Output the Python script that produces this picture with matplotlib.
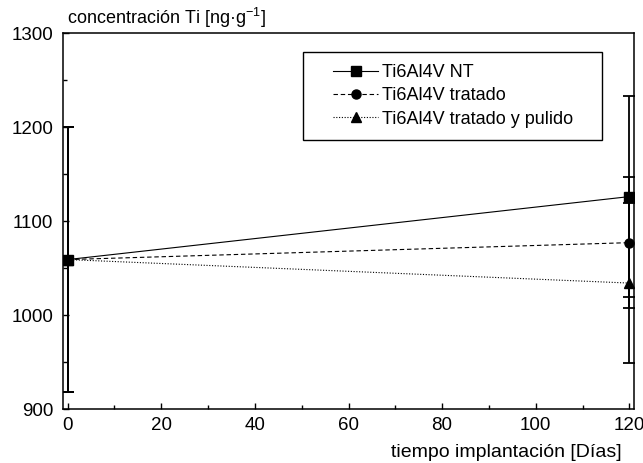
import matplotlib.pyplot as plt
from matplotlib.ticker import MultipleLocator
from matplotlib.patches import Rectangle

plt.rcParams['font.family'] = ['Liberation Sans', 'DejaVu Sans']

# datos
dias = [0, 120]
nt = [1059, 1126]
nt_err = [141, 107]
tratado = [1059, 1077]
tratado_err = [141, 70]
pulido = [1059, 1034]
pulido_err = [141, 85]
etiquetas = ['Ti6Al4V NT', 'Ti6Al4V tratado', 'Ti6Al4V tratado y pulido']

fig = plt.figure(figsize=(6.43, 4.63), dpi=100)
ax = fig.add_axes([0.098, 0.1166, 0.888, 0.812])

series = [(nt, nt_err, '-', 's'), (tratado, tratado_err, (0, (4, 2.5)), 'o'),
          (pulido, pulido_err, (0, (1, 1.5)), '^')]
handles = []
for (y, e, ls, mk), lab in zip(series, etiquetas):
    ax.errorbar(dias, y, yerr=e, fmt='none', ecolor='black', elinewidth=1.3,
                capsize=4.5, capthick=1.3)
    h, = ax.plot(dias, y, color='black', linestyle=ls, linewidth=0.8,
                 marker=mk, markersize=6.5, label=lab)
    handles.append(h)

ax.set_xlim(-1, 121)
ax.set_ylim(900, 1300)
ax.xaxis.set_major_locator(MultipleLocator(20))
ax.xaxis.set_minor_locator(MultipleLocator(10))
ax.yaxis.set_major_locator(MultipleLocator(100))
ax.yaxis.set_minor_locator(MultipleLocator(50))
ax.tick_params(which='both', direction='in', labelsize=13.5, width=1)
ax.tick_params(which='major', length=4.3)
ax.tick_params(which='minor', length=3)
ax.tick_params(axis='y', pad=7)
ax.tick_params(axis='x', pad=6)
for s in ax.spines.values():
    s.set_linewidth(1.1)

# recuadro de la leyenda
ax.add_patch(Rectangle((0.420, 0.715), 0.524, 0.234, transform=ax.transAxes,
                       fill=True, facecolor='white', edgecolor='black',
                       linewidth=1, zorder=4))
leg = ax.legend(handles=handles, loc='upper left', bbox_to_anchor=(0.473, 0.918),
                fontsize=13, frameon=False, handlelength=2.5, handletextpad=0.22,
                labelspacing=0.35, borderpad=0, borderaxespad=0)
leg.set_zorder(5)

fig.text(0.104, 0.962, 'concentración Ti [ng·g$^{\\mathregular{-1}}$]', fontsize=13,
         ha='left', va='center')
fig.text(0.966, 0.022, 'tiempo implantación [Días]', fontsize=14,
         ha='right', va='center')

fig.savefig('out.png', dpi=100)
